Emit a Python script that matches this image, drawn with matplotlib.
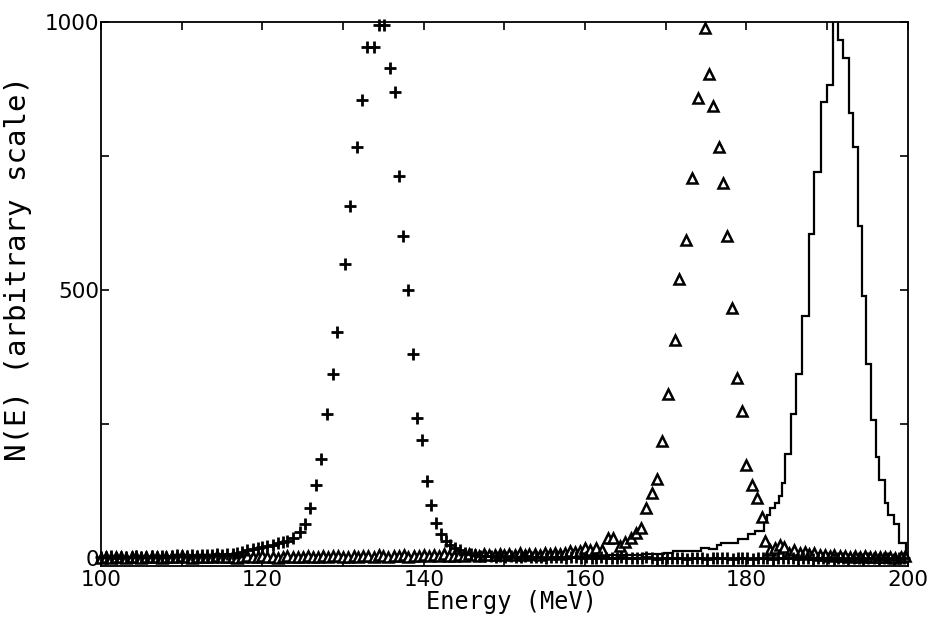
import matplotlib
matplotlib.use("Agg")
import matplotlib.pyplot as plt
from matplotlib.ticker import MultipleLocator, FixedLocator

# crosses: first spectrum (peak near 134 MeV)
cross_e = [
    100.0, 100.6, 101.3, 101.9, 102.5, 103.1, 103.8, 104.4, 105.0, 105.6,
    106.3, 106.9, 107.5, 108.1, 108.8, 109.4, 110.0, 110.6, 111.3, 111.9,
    112.5, 113.1, 113.8, 114.4, 115.0, 115.6, 116.3, 116.9, 117.5, 118.1,
    118.8, 119.4, 120.0, 120.6, 121.3, 121.9, 122.5, 123.1, 123.8,
    124.7, 125.3, 125.9, 126.6, 127.3, 128.0, 128.7, 129.3, 130.2, 130.9,
    131.7, 132.4, 133.0, 133.8, 134.5, 135.1, 135.8, 136.4, 136.9, 137.4,
    138.0, 138.7, 139.2, 139.8, 140.4, 140.9, 141.5, 142.1,
    142.7, 143.3, 143.9, 144.5, 145.1, 145.8, 146.4,
    147.0, 147.6, 148.3, 148.9, 149.5, 150.1, 150.8, 151.4, 152.0, 152.6,
    153.3, 153.9, 154.5, 155.1, 155.8, 156.4, 157.0, 157.6, 158.3, 158.9,
    159.5, 160.1, 160.8, 161.4, 162.0, 162.6, 163.3, 163.9, 164.5, 165.1,
    165.8, 166.4, 167.0, 167.6, 168.3, 168.9, 169.5, 170.1, 170.8, 171.4,
    172.0, 172.6, 173.3, 173.9, 174.5, 175.1, 175.8, 176.4, 177.0, 177.6,
    178.3, 178.9, 179.5, 180.1, 180.8, 181.4, 182.0, 182.6, 183.3, 183.9,
    184.5, 185.1, 185.8, 186.4, 187.0, 187.6, 188.3, 188.9, 189.5, 190.1,
    190.8, 191.4, 192.0, 192.6, 193.3, 193.9, 194.5, 195.1, 195.8, 196.4,
    197.0, 197.6, 198.3, 198.9, 199.5,
]
cross_n = [
    2, 1, 3, 0, 2, 1, 2, 3, 1, 2,
    3, 2, 4, 2, 3, 5, 3, 4, 5, 4,
    6, 5, 6, 7, 6, 7, 8, 10, 12, 14,
    16, 18, 20, 22, 25, 27, 29, 32, 37,
    48, 63, 94, 137, 185, 268, 344, 422, 548, 657,
    767, 854, 954, 954, 994, 994, 915, 869, 713, 600,
    500, 381, 261, 220, 144, 98, 65, 44,
    32, 25, 19, 14, 10, 7, 5,
    4, 3, 3, 2, 4, 2, 3, 1, 2, 3,
    2, 1, 2, 0, 2, 1, 1, 0, 1, 2,
    0, 1, -1, 0, 1, 0, -1, 0, 1, -1,
    0, 0, -1, 1, 0, -2, 0, -1, 0, -1,
    0, -2, -1, 0, -1, -2, 0, -1, -1, 0,
    -2, -1, 0, -1, -2, -1, 0, -1, -2, -1,
    0, -1, -1, -2, 0, -1, -2, -1, -1, 0,
    -2, -1, -1, -2, 0, -1, -2, -1, -1, -2,
    0, -1, -2, -1, -1,
]

# triangles: second spectrum (peak near 175 MeV)
tri_e = [
    100.0, 100.6, 101.3, 101.9, 102.5, 103.1, 103.8, 104.4, 105.0, 105.6,
    106.3, 106.9, 107.5, 108.1, 108.8, 109.4, 110.0, 110.6, 111.3, 111.9,
    112.5, 113.1, 113.8, 114.4, 115.0, 115.6, 116.3, 116.9, 117.5, 118.1,
    118.8, 119.4, 120.0, 120.6, 121.3, 121.9, 122.5, 123.1, 123.8, 124.4,
    125.0, 125.6, 126.3, 126.9, 127.5, 128.1, 128.8, 129.4, 130.0, 130.6,
    131.3, 131.9, 132.5, 133.1, 133.8, 134.4, 135.0, 135.6, 136.3, 136.9,
    137.5, 138.1, 138.8, 139.4, 140.0, 140.6, 141.3, 141.9, 142.5, 143.1,
    143.8, 144.4, 145.0, 145.6, 146.3, 146.9, 147.5, 148.1, 148.8, 149.4,
    150.0, 150.6, 151.3, 151.9, 152.5, 153.1, 153.8, 154.4, 155.0, 155.6,
    156.3, 156.9, 157.5, 158.1, 158.8, 159.4, 160.0, 160.6, 161.3,
    162.1, 162.8, 163.5, 164.3, 165.0, 165.7, 166.3, 166.9, 167.5, 168.3,
    168.9, 169.5, 170.3, 171.1, 171.7, 172.5, 173.2, 174.0, 174.8, 175.3,
    175.9, 176.6, 177.1, 177.6, 178.2, 178.8, 179.4, 180.0, 180.7, 181.3,
    181.9, 182.3, 182.9, 183.5, 184.1,
    184.7, 185.3, 185.9, 186.6, 187.2, 187.8, 188.4, 189.1, 189.7, 190.3,
    190.9, 191.6, 192.2, 192.8, 193.4, 194.1, 194.7, 195.3, 195.9, 196.6,
    197.2, 197.8, 198.4, 199.1, 199.7,
]
tri_n = [
    0, 1, 0, 2, 1, 0, 1, 2, 0, 1,
    2, 1, 0, 1, 2, 1, 3, 1, 0, 2,
    1, 2, 1, 3, 2, 1, 2, 0, 2, 3,
    1, 2, 3, 1, 2, 0, 1, 3, 2, 1,
    2, 4, 2, 1, 3, 2, 4, 3, 2, 1,
    3, 2, 4, 3, 2, 5, 3, 2, 4, 3,
    5, 2, 4, 3, 6, 3, 5, 4, 7, 4,
    3, 6, 4, 8, 5, 4, 7, 5, 6, 8,
    5, 7, 6, 9, 6, 8, 7, 6, 9, 7,
    9, 8, 10, 13, 11, 13, 19, 15, 19,
    15, 37, 37, 22, 30, 37, 46, 56, 94, 122,
    148, 219, 306, 406, 520, 594, 709, 859, 989, 902,
    843, 767, 700, 600, 467, 335, 274, 174, 137, 111,
    76, 31, 15, 19, 24,
    20, 10, 14, 9, 12, 8, 10, 6, 5, 4,
    5, 3, 4, 2, 3, 2, 3, 1, 2, 1,
    2, 1, 0, 1, 3,
]

# histogram: third spectrum (peak near 191 MeV), bin edges and counts
hist_edges = [
    100.0, 150.0, 158.0, 163.0, 167.0, 169.8, 170.9, 174.4, 175.3, 176.3,
    176.9, 179.0, 180.2, 181.0, 182.2, 182.5, 182.9, 183.5, 184.0, 184.4,
    184.8, 185.5, 186.2, 186.9, 187.7, 188.4, 189.2, 190.0, 190.7, 191.4,
    192.0, 192.7, 193.2, 193.8, 194.3, 194.8, 195.4, 196.0, 196.4, 197.2,
    197.6, 198.3, 198.9, 199.8, 200.0,
]
hist_n = [
    1, 2, 4, 6, 8, 10, 13, 19, 17, 24,
    28, 35, 44, 50, 69, 81, 93, 102, 115, 139,
    193, 269, 343, 452, 604, 720, 850, 883, 1050, 967,
    933, 831, 767, 620, 489, 361, 257, 189, 146, 102,
    81, 63, 28, 0,
]

plt.rcParams["font.family"] = ["DejaVu Sans"]

fig = plt.figure(figsize=(9.36, 6.17), dpi=100)
ax = fig.add_axes([0.1079, 0.0827, 0.862, 0.8817])

ax.stairs(hist_n, hist_edges, color="black", linewidth=1.6, zorder=2)
ax.plot(tri_e, tri_n, linestyle="none", marker="^", markersize=6.5,
        markeredgewidth=1.8, markerfacecolor="white", color="black",
        clip_on=False, zorder=3)
ax.plot(cross_e, cross_n, linestyle="none", marker="+", markersize=8.5,
        markeredgewidth=2.0, color="black", clip_on=False, zorder=4)

ax.set_xlim(100, 200)
ax.set_ylim(-15, 1000)
ax.xaxis.set_major_locator(MultipleLocator(20))
ax.xaxis.set_minor_locator(MultipleLocator(10))
ax.yaxis.set_major_locator(FixedLocator([0, 500, 1000]))
ax.yaxis.set_minor_locator(FixedLocator([250, 750]))
ax.tick_params(which="both", direction="in", top=True, right=True,
               length=6, width=1.2, labelsize=15.5)
ax.tick_params(axis="y", pad=1)
ax.tick_params(axis="x", pad=3)
for s in ax.spines.values():
    s.set_linewidth(1.3)

ax.set_xlabel("Energy (MeV)", fontsize=17, family="DejaVu Sans Mono")
ax.set_ylabel("N(E) (arbitrary scale)", fontsize=21, family="DejaVu Sans Mono")
ax.xaxis.set_label_coords(0.509, -0.044)
ax.yaxis.set_label_coords(-0.085, 0.546)

fig.savefig("out.png", dpi=100)
